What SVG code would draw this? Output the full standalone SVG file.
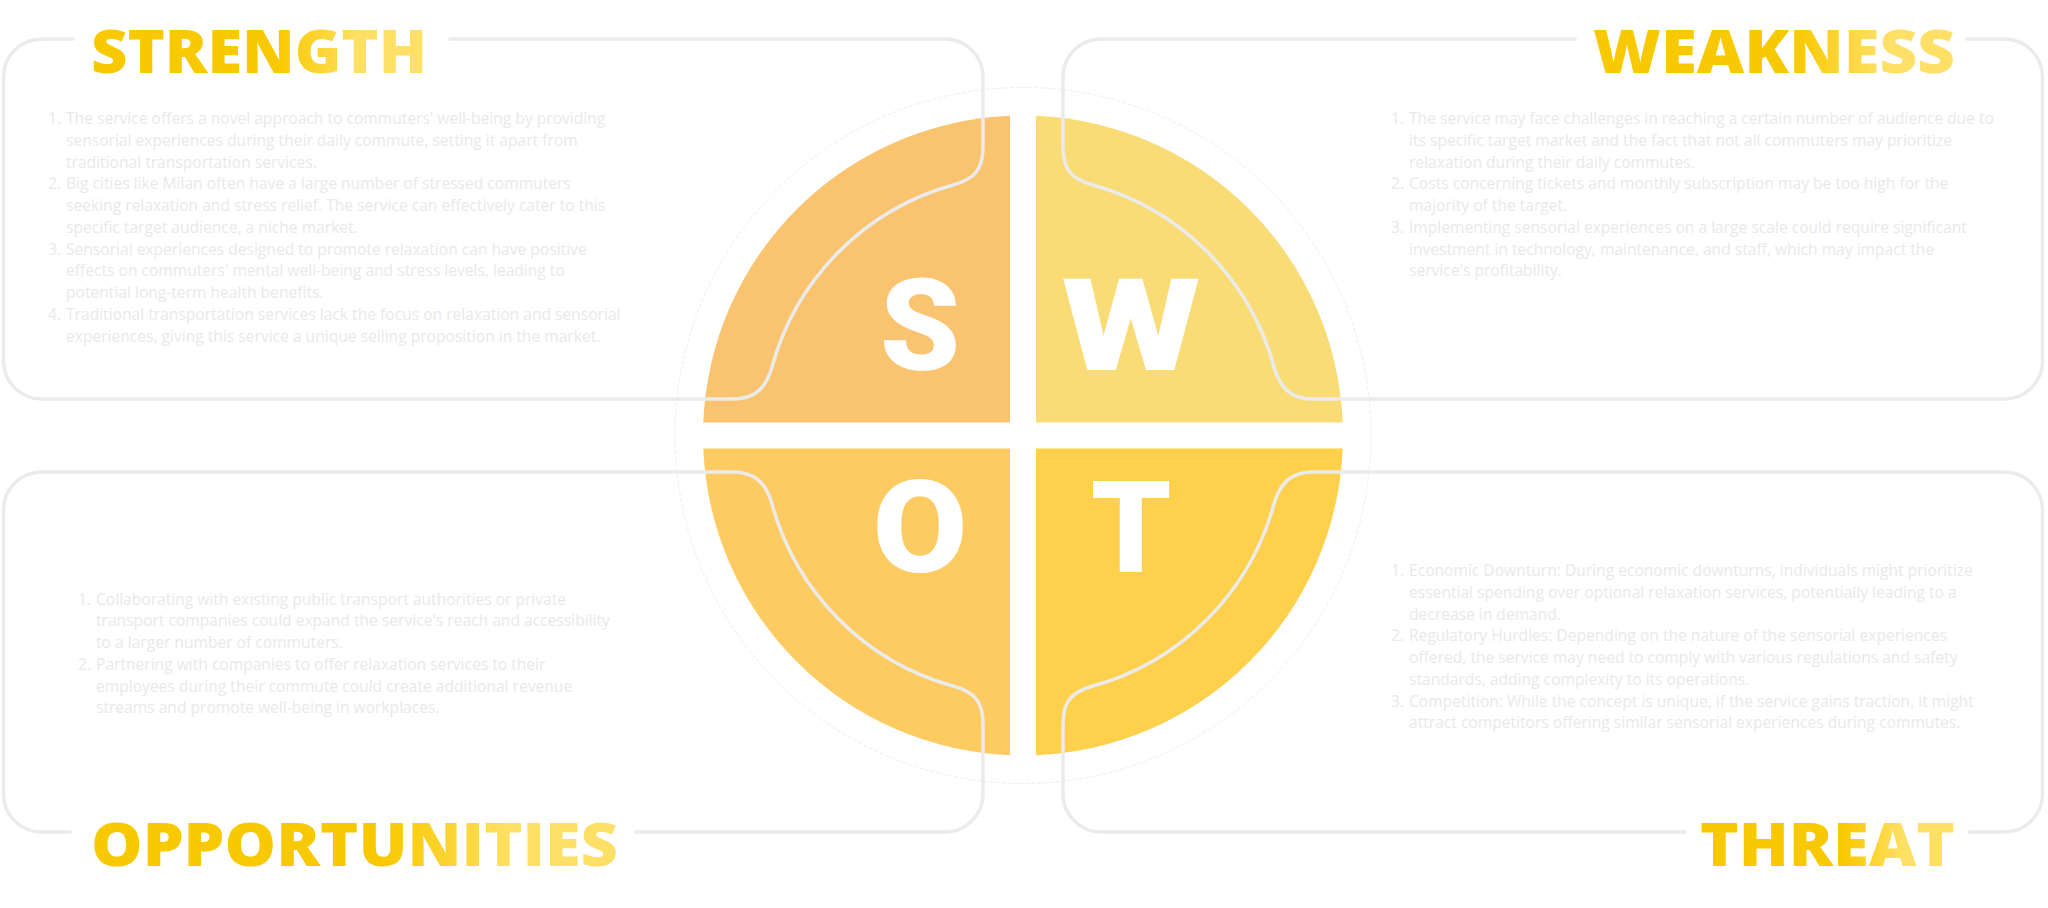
<svg xmlns="http://www.w3.org/2000/svg" width="2048" height="908" viewBox="0 0 2048 908">
  <defs>
    <linearGradient id="titleFill" x1="0" y1="0" x2="1" y2="0">
      <stop offset="0" stop-color="#F9C900"/>
      <stop offset="0.56" stop-color="#F9C900"/>
      <stop offset="0.8" stop-color="#FFE066"/>
      <stop offset="1" stop-color="#FFE066"/>
    </linearGradient>
    <style>
      .title { font-family: "Open Sans", "Liberation Sans", sans-serif; font-weight: 800; font-size: 60px; fill: url(#titleFill); }
      .body { font-family: "Open Sans", "Liberation Sans", sans-serif; font-size: 15.6px; fill: #E9E9E9; }
      .letter { font-family: Roboto, "Liberation Sans", sans-serif; font-weight: 900; font-size: 128px; fill: #FFFFFF; text-anchor: middle; }
      .frame { fill: none; stroke: #EBEBEB; stroke-width: 3.5; stroke-linecap: round; stroke-linejoin: round; }
      .ring { fill: none; stroke: #EEEEEE; stroke-width: 1; stroke-dasharray: 4 2; }
    </style>
  </defs>

  <rect width="2048" height="908" fill="#FFFFFF"/>

  <!-- central SWOT wheel -->
  <g id="wheel">
    <circle class="ring" cx="1023" cy="435.5" r="348"/>
    <path id="quad-s" d="M1010,422.5 V115.8 A320,320 0 0 0 703.3,422.5 Z" fill="#F9C36F"/>
    <path id="quad-w" d="M1036,422.5 V115.8 A320,320 0 0 1 1342.7,422.5 Z" fill="#F9DC76"/>
    <path id="quad-o" d="M1010,448.5 V755.2 A320,320 0 0 1 703.3,448.5 Z" fill="#FECB63"/>
    <path id="quad-t" d="M1036,448.5 V755.2 A320,320 0 0 0 1342.7,448.5 Z" fill="#FFD04B"/>
    <text class="letter" x="920" y="370">S</text>
    <text class="letter" transform="translate(1131 370) scale(1.25 1)">W</text>
    <text class="letter" transform="translate(920 572) scale(1.07 1)">O</text>
    <text class="letter" x="1131" y="572">T</text>
  </g>

  <!-- frames that wrap each quadrant's text panel -->
  <g id="connectors">
    <path class="frame" d="M450,39 H945 A38,38 0 0 1 983,77 V147 C983,169 975,179 953,185 A260,260 0 0 0 772,367 C766,388 755,399 733,399 H41.5 A38,38 0 0 1 3.5,361 V77 A38,38 0 0 1 41.5,39 H73"/>
    <path class="frame" d="M1575,39 H1101 A38,38 0 0 0 1063,77 V147 C1063,169 1071,179 1093,185 A260,260 0 0 1 1274,367 C1280,388 1291,399 1313,399 H2004.5 A38,38 0 0 0 2042.5,361 V77 A38,38 0 0 0 2004.5,39 H1967"/>
    <path class="frame" d="M636,832 H945 A38,38 0 0 0 983,794 V724 C983,702 975,692 953,686 A260,260 0 0 1 772,504 C766,483 755,472 733,472 H41.5 A38,38 0 0 0 3.5,510 V794 A38,38 0 0 0 41.5,832 H70"/>
    <path class="frame" d="M1685,832 H1101 A38,38 0 0 1 1063,794 V724 C1063,702 1071,692 1093,686 A260,260 0 0 0 1274,504 C1280,483 1291,472 1313,472 H2004.5 A38,38 0 0 1 2042.5,510 V794 A38,38 0 0 1 2004.5,832 H1969"/>
  </g>

  <!-- Strength panel -->
  <g id="strength">
    <text class="title" x="91" y="73" textLength="336" lengthAdjust="spacingAndGlyphs">STRENGTH</text>
    <g class="body">
      <text x="48" y="124">1.</text>
      <text x="66" y="124">The service offers a novel approach to commuters' well-being by providing</text>
      <text x="66" y="145.75">sensorial experiences during their daily commute, setting it apart from</text>
      <text x="66" y="167.5">traditional transportation services.</text>
      <text x="48" y="189.25">2.</text>
      <text x="66" y="189.25">Big cities like Milan often have a large number of stressed commuters</text>
      <text x="66" y="211">seeking relaxation and stress relief. The service can effectively cater to this</text>
      <text x="66" y="232.75">specific target audience, a niche market.</text>
      <text x="48" y="254.5">3.</text>
      <text x="66" y="254.5">Sensorial experiences designed to promote relaxation can have positive</text>
      <text x="66" y="276.25">effects on commuters' mental well-being and stress levels, leading to</text>
      <text x="66" y="298">potential long-term health benefits.</text>
      <text x="48" y="319.75">4.</text>
      <text x="66" y="319.75">Traditional transportation services lack the focus on relaxation and sensorial</text>
      <text x="66" y="341.5">experiences, giving this service a unique selling proposition in the market.</text>
    </g>
  </g>

  <!-- Weakness panel -->
  <g id="weakness">
    <text class="title" x="1955" y="73" text-anchor="end" textLength="362" lengthAdjust="spacingAndGlyphs">WEAKNESS</text>
    <g class="body">
      <text x="1391" y="124">1.</text>
      <text x="1409" y="124">The service may face challenges in reaching a certain number of audience due to</text>
      <text x="1409" y="145.75">its specific target market and the fact that not all commuters may prioritize</text>
      <text x="1409" y="167.5">relaxation during their daily commutes.</text>
      <text x="1391" y="189.25">2.</text>
      <text x="1409" y="189.25">Costs concerning tickets and monthly subscription may be too high for the</text>
      <text x="1409" y="211">majority of the target.</text>
      <text x="1391" y="232.75">3.</text>
      <text x="1409" y="232.75">Implementing sensorial experiences on a large scale could require significant</text>
      <text x="1409" y="254.5">investment in technology, maintenance, and staff, which may impact the</text>
      <text x="1409" y="276.25">service's profitability.</text>
    </g>
  </g>

  <!-- Opportunities panel -->
  <g id="opportunities">
    <text class="title" x="91" y="866" textLength="527" lengthAdjust="spacingAndGlyphs">OPPORTUNITIES</text>
    <g class="body">
      <text x="78" y="604.5">1.</text>
      <text x="96" y="604.5">Collaborating with existing public transport authorities or private</text>
      <text x="96" y="626.25">transport companies could expand the service's reach and accessibility</text>
      <text x="96" y="648">to a larger number of commuters.</text>
      <text x="78" y="669.75">2.</text>
      <text x="96" y="669.75">Partnering with companies to offer relaxation services to their</text>
      <text x="96" y="691.5">employees during their commute could create additional revenue</text>
      <text x="96" y="713.25">streams and promote well-being in workplaces.</text>
    </g>
  </g>

  <!-- Threat panel -->
  <g id="threat">
    <text class="title" x="1955" y="866" text-anchor="end" textLength="255" lengthAdjust="spacingAndGlyphs">THREAT</text>
    <g class="body">
      <text x="1391" y="576">1.</text>
      <text x="1409" y="576">Economic Downturn: During economic downturns, individuals might prioritize</text>
      <text x="1409" y="597.75">essential spending over optional relaxation services, potentially leading to a</text>
      <text x="1409" y="619.5">decrease in demand.</text>
      <text x="1391" y="641.25">2.</text>
      <text x="1409" y="641.25">Regulatory Hurdles: Depending on the nature of the sensorial experiences</text>
      <text x="1409" y="663">offered, the service may need to comply with various regulations and safety</text>
      <text x="1409" y="684.75">standards, adding complexity to its operations.</text>
      <text x="1391" y="706.5">3.</text>
      <text x="1409" y="706.5">Competition: While the concept is unique, if the service gains traction, it might</text>
      <text x="1409" y="728.25">attract competitors offering similar sensorial experiences during commutes.</text>
    </g>
  </g>
</svg>
